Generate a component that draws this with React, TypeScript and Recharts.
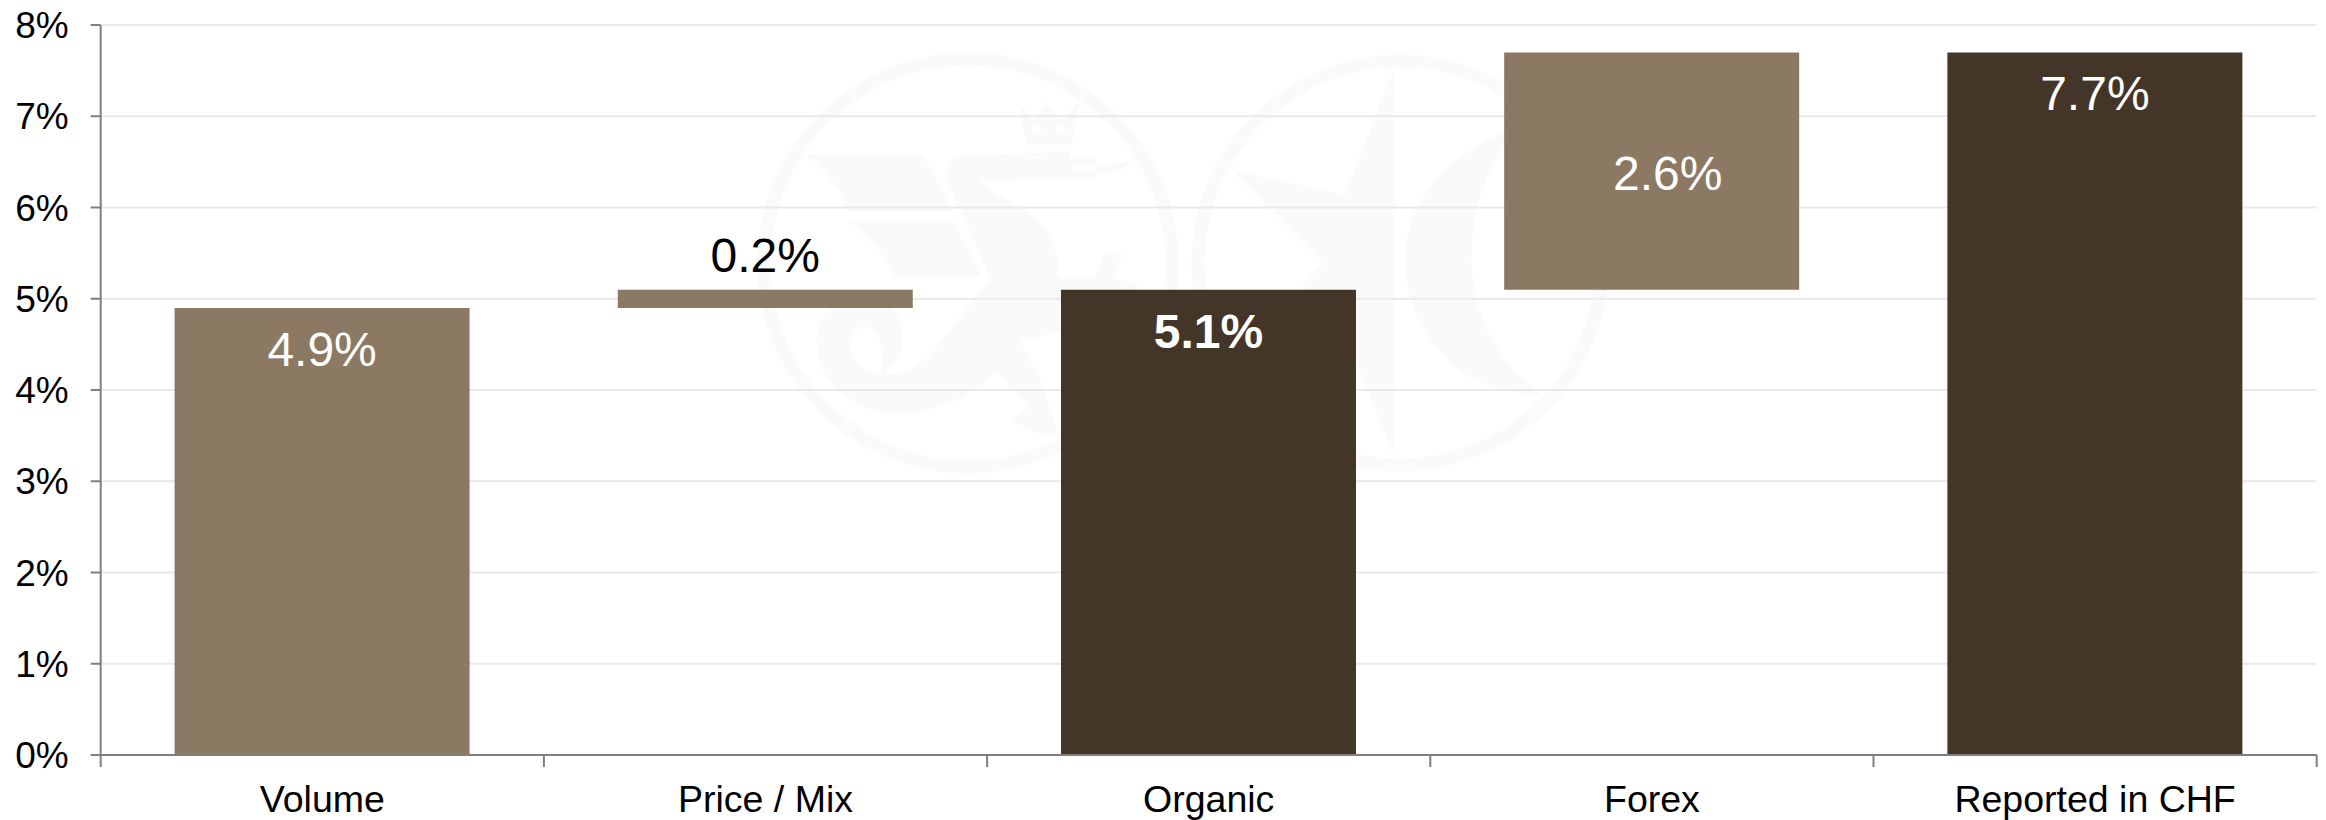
import { BarChart, Bar, Cell, CartesianGrid, LabelList, XAxis, YAxis } from 'recharts';

const FONT = '"Liberation Sans", Arial, sans-serif';
const WIDTH = 2326;
const HEIGHT = 820;
const AXIS_WIDTH = 100.7;
const RIGHT_MARGIN = 9.3;
const AXIS_COLOR = '#7f7f7f';
const GRID_COLOR = '#e9e9e9';
const MARK_COLOR = '#fafafa';
const LIGHT = '#8b7963';
const DARK = '#433628';

const categories = ['Volume', 'Price / Mix', 'Organic', 'Forex', 'Reported in CHF'];
const offsets = [0, 4.9, 0, 5.1, 0];
const values = [4.9, 0.2, 5.1, 2.6, 7.7];
const yTicks = [0, 1, 2, 3, 4, 5, 6, 7, 8];

const barColors = [LIGHT, LIGHT, DARK, LIGHT, DARK];
const labelPlacement = ['inside', 'above', 'inside', 'center', 'inside'];

const chartData = categories.map((name, i) => ({ name, offset: offsets[i], value: values[i] }));
const bandWidth = (WIDTH - AXIS_WIDTH - RIGHT_MARGIN) / categories.length;

// category name with tick marks on the band edges
function CategoryTick({ x, y, payload, index }: any) {
  const left = x - bandWidth / 2;
  const right = x + bandWidth / 2;
  const top = y - 8;
  return (
    <g>
      <line x1={left} x2={left} y1={top} y2={top + 12} stroke={AXIS_COLOR} strokeWidth={2} />
      {index === categories.length - 1 && (
        <line x1={right} x2={right} y1={top} y2={top + 12} stroke={AXIS_COLOR} strokeWidth={2} />
      )}
      <text x={x} y={top + 57} textAnchor="middle" fontSize={37.5} fontFamily={FONT} fill="#000">
        {payload.value}
      </text>
    </g>
  );
}

function ValueLabel({ x, y, width, height, value, index }: any) {
  const placement = labelPlacement[index];
  let textX = x + width / 2;
  let textY = y + 58;
  if (placement === 'above') textY = y - 18;
  if (placement === 'center') {
    // the Forex label sits a little right of the bar's centre
    textX += 16;
    textY = y + height / 2 + 19;
  }
  return (
    <text
      x={textX}
      y={textY}
      textAnchor="middle"
      fontSize={48}
      fontFamily={FONT}
      fontWeight={categories[index] === 'Organic' ? 700 : 400}
      fill={placement === 'above' ? '#000' : '#fff'}
    >
      {`${value.toFixed(1)}%`}
    </text>
  );
}

// faint company crest sitting behind the plot
function Crest() {
  return (
    <svg width={WIDTH} height={HEIGHT} style={{ position: 'absolute', left: 0, top: 0 }}>
      <circle cx={968} cy={263} r={204} fill="none" stroke={MARK_COLOR} strokeWidth={13} />
      <circle cx={1400} cy={263} r={202} fill="none" stroke={MARK_COLOR} strokeWidth={13} />
      <g transform="translate(750 45) scale(0.3333)" fill={MARK_COLOR}>
        <path d="M170,330 L520,330 L610,500 L300,500 C270,430 230,380 170,330 Z" />
        <path d="M300,530 L610,530 L695,695 L435,695 C400,620 350,570 300,530 Z" />
        <path d="M805,175 L850,225 L890,170 L935,225 L985,175 L965,300 L830,300 Z" />
        <circle cx={860} cy={252} r={14} fill="#fff" />
        <circle cx={932} cy={252} r={14} fill="#fff" />
        <path d="M590,400 C590,350 620,330 660,330 L960,320 L960,340 L1035,340 L1035,400 L690,405 C720,450 800,470 860,520 C910,570 925,630 925,695 L1035,695 L1065,625 L1120,625 L1085,700 L1160,715 L1160,800 L810,890 L870,1000 L925,1170 L870,1170 L780,1125 L835,1085 L740,980 C650,1060 560,1105 450,1105 C310,1105 200,1010 200,890 C200,800 270,760 340,760 C420,760 460,820 460,880 C460,920 430,960 400,990 C480,990 520,960 580,880 L720,700 Z" />
        <path d="M340,845 C300,860 295,900 310,940 C330,970 370,990 400,990 C395,930 400,845 340,845 Z" fill="#fff" />
        <path d="M965,362 L1035,362 L1035,376 L965,376 Z" fill="#fff" />
        <path d="M1040,360 C1080,365 1120,355 1145,345 C1130,375 1090,385 1040,385 Z" />
      </g>
      <g transform="translate(1180 45) scale(0.3333)" fill={MARK_COLOR}>
        <path d="M640,75 L640,1230 L530,950 L360,730 L430,655 L155,375 L495,450 Z" />
        <path d="M990,255 C790,330 675,480 675,640 C675,870 850,1060 1090,1045 C970,980 875,820 875,640 C875,490 920,370 990,270 Z" />
      </g>
    </svg>
  );
}

export default function App() {
  return (
    <div style={{ position: 'absolute', left: 0, top: 0, width: WIDTH, height: HEIGHT, fontFamily: FONT, overflow: 'hidden' }}>
      <Crest />
      <BarChart
        width={WIDTH}
        height={HEIGHT}
        data={chartData}
        margin={{ top: 25, right: RIGHT_MARGIN, bottom: 0, left: 0 }}
        barCategoryGap="16.67%"
        style={{ position: 'relative' }}
      >
        <CartesianGrid vertical={false} stroke={GRID_COLOR} strokeWidth={2} />
        <XAxis
          dataKey="name"
          height={65}
          interval={0}
          axisLine={{ stroke: AXIS_COLOR, strokeWidth: 2 }}
          tickLine={false}
          tick={<CategoryTick />}
        />
        <YAxis
          width={AXIS_WIDTH}
          domain={[0, 8]}
          ticks={yTicks}
          interval={0}
          tickFormatter={(v: number) => `${v}%`}
          axisLine={{ stroke: AXIS_COLOR, strokeWidth: 2 }}
          tickLine={{ stroke: AXIS_COLOR, strokeWidth: 2 }}
          tickSize={10}
          tickMargin={22}
          tick={{ fill: '#000', fontSize: 37, fontFamily: FONT }}
        />
        <Bar dataKey="offset" stackId="bridge" fill="none" isAnimationActive={false} />
        <Bar dataKey="value" stackId="bridge" isAnimationActive={false}>
          {chartData.map((d, i) => (
            <Cell key={d.name} fill={barColors[i]} />
          ))}
          <LabelList dataKey="value" content={<ValueLabel />} />
        </Bar>
      </BarChart>
    </div>
  );
}
